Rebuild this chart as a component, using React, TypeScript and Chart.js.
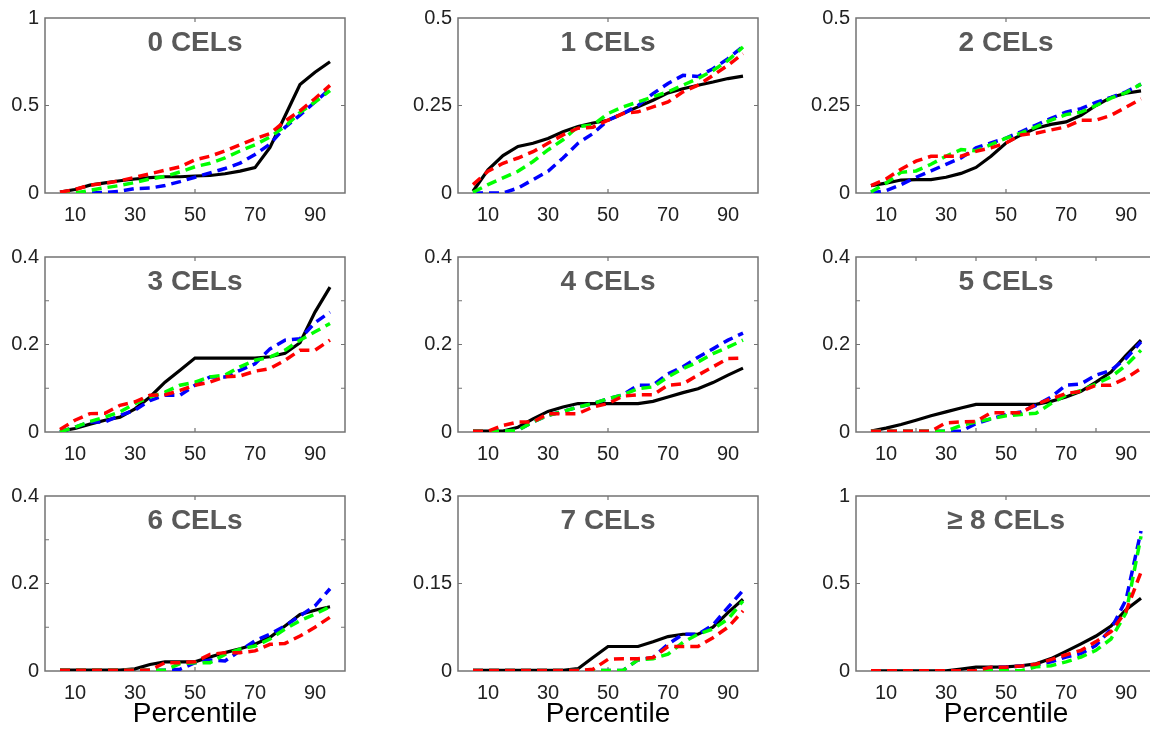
import React, { useEffect, useRef } from "react";
import { Chart, registerables } from "chart.js";

Chart.register(...registerables);

// ---------- data ----------
const percentiles = [5, 10, 15, 20, 25, 30, 35, 40, 45, 50, 55, 60, 65, 70, 75, 80, 85, 90, 95];
const xTickLabels = [10, 30, 50, 70, 90];
const xAxisTitle = "Percentile";

const panelTitles = ["0 CELs", "1 CELs", "2 CELs", "3 CELs", "4 CELs", "5 CELs", "6 CELs", "7 CELs", "≥ 8 CELs"];
const yMaxes = [1, 0.5, 0.5, 0.4, 0.4, 0.4, 0.4, 0.3, 1];
const yTickLabels = [
  [0, 0.5, 1],
  [0, 0.25, 0.5],
  [0, 0.25, 0.5],
  [0, 0.2, 0.4],
  [0, 0.2, 0.4],
  [0, 0.2, 0.4],
  [0, 0.2, 0.4],
  [0, 0.15, 0.3],
  [0, 0.5, 1],
];
const yTickMarks = [
  [0.5],
  [0.25],
  [0.25],
  [0.1, 0.2, 0.3],
  [0.1, 0.2, 0.3],
  [0.1, 0.2, 0.3],
  [0.1, 0.2, 0.3],
  [0.15],
  [0.5],
];
const xTickMarks = [[50], [50], [50], [50], [50], [20, 40, 60, 80], [50], [50], [50]];

const cel0Black = [0.005, 0.02, 0.045, 0.058, 0.07, 0.08, 0.088, 0.093, 0.093, 0.097, 0.1, 0.11, 0.125, 0.145, 0.26, 0.44, 0.62, 0.69, 0.75];
const cel0Blue = [0, 0, 0, 0.003, 0.01, 0.025, 0.028, 0.043, 0.065, 0.09, 0.115, 0.14, 0.17, 0.22, 0.28, 0.375, 0.445, 0.52, 0.595];
const cel0Green = [0, 0, 0.015, 0.03, 0.043, 0.06, 0.08, 0.095, 0.12, 0.15, 0.17, 0.2, 0.24, 0.275, 0.32, 0.38, 0.46, 0.52, 0.585];
const cel0Red = [0.005, 0.02, 0.045, 0.055, 0.07, 0.09, 0.11, 0.13, 0.15, 0.19, 0.21, 0.24, 0.275, 0.31, 0.34, 0.41, 0.47, 0.54, 0.615];

const cel1Black = [0.005, 0.066, 0.107, 0.133, 0.142, 0.156, 0.175, 0.19, 0.2, 0.208, 0.227, 0.246, 0.265, 0.286, 0.298, 0.308, 0.317, 0.327, 0.334];
const cel1Blue = [0, 0, 0, 0.014, 0.038, 0.062, 0.1, 0.142, 0.17, 0.208, 0.227, 0.25, 0.284, 0.313, 0.336, 0.333, 0.355, 0.384, 0.419];
const cel1Green = [0.002, 0.024, 0.043, 0.062, 0.09, 0.123, 0.152, 0.19, 0.194, 0.227, 0.246, 0.26, 0.275, 0.289, 0.308, 0.327, 0.35, 0.379, 0.417];
const cel1Red = [0.024, 0.062, 0.085, 0.1, 0.118, 0.142, 0.166, 0.185, 0.188, 0.208, 0.227, 0.232, 0.246, 0.26, 0.289, 0.308, 0.336, 0.365, 0.398];

const cel2Black = [0.021, 0.028, 0.037, 0.038, 0.038, 0.045, 0.056, 0.073, 0.105, 0.143, 0.166, 0.185, 0.196, 0.203, 0.222, 0.25, 0.273, 0.285, 0.292];
const cel2Blue = [0, 0.007, 0.024, 0.045, 0.063, 0.082, 0.1, 0.129, 0.143, 0.157, 0.175, 0.194, 0.213, 0.231, 0.241, 0.259, 0.273, 0.289, 0.311];
const cel2Green = [0.003, 0.028, 0.059, 0.063, 0.082, 0.105, 0.124, 0.121, 0.138, 0.157, 0.171, 0.189, 0.208, 0.224, 0.231, 0.25, 0.271, 0.287, 0.311];
const cel2Red = [0.021, 0.04, 0.068, 0.091, 0.105, 0.105, 0.105, 0.119, 0.129, 0.143, 0.166, 0.171, 0.18, 0.189, 0.208, 0.208, 0.222, 0.245, 0.269];

const cel3Black = [0.002, 0.008, 0.018, 0.027, 0.034, 0.053, 0.08, 0.114, 0.141, 0.169, 0.169, 0.169, 0.169, 0.169, 0.172, 0.18, 0.204, 0.274, 0.331];
const cel3Blue = [0, 0.011, 0.023, 0.023, 0.038, 0.05, 0.072, 0.084, 0.084, 0.107, 0.126, 0.126, 0.141, 0.156, 0.19, 0.21, 0.213, 0.25, 0.274];
const cel3Green = [0, 0.011, 0.024, 0.034, 0.046, 0.065, 0.08, 0.091, 0.107, 0.114, 0.126, 0.13, 0.149, 0.164, 0.171, 0.187, 0.21, 0.229, 0.248];
const cel3Red = [0.006, 0.027, 0.042, 0.043, 0.061, 0.069, 0.084, 0.085, 0.095, 0.107, 0.114, 0.126, 0.128, 0.139, 0.145, 0.164, 0.187, 0.187, 0.21];

const cel4Black = [0.002, 0.002, 0.002, 0.011, 0.03, 0.047, 0.057, 0.065, 0.065, 0.065, 0.065, 0.065, 0.07, 0.08, 0.09, 0.099, 0.113, 0.13, 0.146];
const cel4Blue = [0.002, 0.002, 0.002, 0.004, 0.023, 0.038, 0.047, 0.057, 0.065, 0.076, 0.085, 0.107, 0.107, 0.133, 0.149, 0.171, 0.19, 0.21, 0.226];
const cel4Green = [0.002, 0.002, 0.002, 0.004, 0.023, 0.038, 0.047, 0.057, 0.065, 0.076, 0.085, 0.099, 0.103, 0.126, 0.145, 0.16, 0.179, 0.194, 0.21];
const cel4Red = [0.002, 0.002, 0.015, 0.023, 0.023, 0.042, 0.042, 0.042, 0.057, 0.065, 0.082, 0.085, 0.085, 0.107, 0.11, 0.13, 0.149, 0.168, 0.169];

const cel5Black = [0.002, 0.009, 0.017, 0.027, 0.037, 0.046, 0.055, 0.063, 0.063, 0.063, 0.063, 0.063, 0.07, 0.08, 0.093, 0.114, 0.137, 0.175, 0.21];
const cel5Blue = [0.002, 0.002, 0.002, 0.002, 0.002, 0.002, 0.002, 0.019, 0.03, 0.04, 0.046, 0.061, 0.08, 0.107, 0.11, 0.13, 0.141, 0.168, 0.206];
const cel5Green = [0.002, 0.002, 0.002, 0.002, 0.002, 0.002, 0.015, 0.023, 0.03, 0.037, 0.04, 0.043, 0.065, 0.084, 0.095, 0.11, 0.126, 0.152, 0.187];
const cel5Red = [0.002, 0.002, 0.002, 0.002, 0.002, 0.021, 0.023, 0.024, 0.044, 0.044, 0.044, 0.063, 0.076, 0.088, 0.093, 0.107, 0.107, 0.123, 0.145];

const cel6Black = [0.002, 0.002, 0.002, 0.002, 0.002, 0.005, 0.015, 0.021, 0.021, 0.021, 0.032, 0.042, 0.051, 0.061, 0.077, 0.103, 0.129, 0.139, 0.147];
const cel6Blue = [0.002, 0.002, 0.002, 0.002, 0.002, 0.002, 0.002, 0.002, 0.004, 0.019, 0.025, 0.023, 0.046, 0.069, 0.084, 0.103, 0.126, 0.149, 0.188];
const cel6Green = [0.002, 0.002, 0.002, 0.002, 0.002, 0.002, 0.002, 0.002, 0.017, 0.019, 0.019, 0.038, 0.05, 0.057, 0.073, 0.096, 0.115, 0.13, 0.147];
const cel6Red = [0.002, 0.002, 0.002, 0.002, 0.002, 0.002, 0.002, 0.019, 0.019, 0.021, 0.038, 0.042, 0.042, 0.046, 0.061, 0.063, 0.08, 0.1, 0.123];

const cel7Black = [0.001, 0.001, 0.001, 0.001, 0.001, 0.001, 0.001, 0.004, 0.023, 0.042, 0.042, 0.042, 0.05, 0.059, 0.063, 0.063, 0.075, 0.1, 0.123];
const cel7Blue = [0.001, 0.001, 0.001, 0.001, 0.001, 0.001, 0.001, 0.001, 0.001, 0.001, 0.001, 0.019, 0.023, 0.046, 0.063, 0.063, 0.079, 0.109, 0.138];
const cel7Green = [0.001, 0.001, 0.001, 0.001, 0.001, 0.001, 0.001, 0.001, 0.001, 0.001, 0.001, 0.019, 0.021, 0.029, 0.049, 0.063, 0.072, 0.089, 0.12];
const cel7Red = [0.001, 0.001, 0.001, 0.001, 0.001, 0.001, 0.001, 0.001, 0.003, 0.02, 0.021, 0.021, 0.023, 0.042, 0.042, 0.042, 0.057, 0.075, 0.103];

const cel8Black = [0.001, 0.001, 0.001, 0.001, 0.001, 0.001, 0.011, 0.022, 0.022, 0.024, 0.03, 0.041, 0.071, 0.112, 0.155, 0.2, 0.257, 0.35, 0.416];
const cel8Blue = [0.001, 0.001, 0.001, 0.001, 0.001, 0.001, 0.001, 0.001, 0.02, 0.022, 0.028, 0.034, 0.052, 0.08, 0.099, 0.146, 0.239, 0.407, 0.8];
const cel8Green = [0.001, 0.001, 0.001, 0.001, 0.001, 0.001, 0.001, 0.001, 0.001, 0.001, 0.001, 0.024, 0.03, 0.052, 0.08, 0.118, 0.183, 0.332, 0.77];
const cel8Red = [0.001, 0.001, 0.001, 0.001, 0.001, 0.001, 0.001, 0.002, 0.022, 0.022, 0.028, 0.039, 0.065, 0.093, 0.118, 0.168, 0.224, 0.341, 0.565];

const blackSeries = [cel0Black, cel1Black, cel2Black, cel3Black, cel4Black, cel5Black, cel6Black, cel7Black, cel8Black];
const blueSeries = [cel0Blue, cel1Blue, cel2Blue, cel3Blue, cel4Blue, cel5Blue, cel6Blue, cel7Blue, cel8Blue];
const greenSeries = [cel0Green, cel1Green, cel2Green, cel3Green, cel4Green, cel5Green, cel6Green, cel7Green, cel8Green];
const redSeries = [cel0Red, cel1Red, cel2Red, cel3Red, cel4Red, cel5Red, cel6Red, cel7Red, cel8Red];

// ---------- layout ----------
const colLefts = [45, 458, 856];
const rowTops = [14, 253, 492];
const plotW = 300;
const plotH = 179;
const padL = 45;
const padT = 14;
const padR = 10;
const padB = 40;

const FONT = '"Liberation Sans", Arial, Helvetica, sans-serif';

const framePlugin = {
  id: "matlabFrame",
  beforeDatasetsDraw(chart: any, _args: any, opts: any) {
    const { ctx, chartArea: a, scales } = chart;
    ctx.save();
    ctx.strokeStyle = "#737373";
    ctx.lineWidth = 1.5;
    ctx.strokeRect(a.left, a.top, a.right - a.left, a.bottom - a.top);
    ctx.lineWidth = 1.2;
    ctx.beginPath();
    for (const v of opts.xMarks || []) {
      const px = scales.x.getPixelForValue(v);
      ctx.moveTo(px, a.bottom);
      ctx.lineTo(px, a.bottom - 4);
      ctx.moveTo(px, a.top);
      ctx.lineTo(px, a.top + 4);
    }
    for (const v of opts.yMarks || []) {
      const py = scales.y.getPixelForValue(v);
      ctx.moveTo(a.left, py);
      ctx.lineTo(a.left + 4, py);
      ctx.moveTo(a.right, py);
      ctx.lineTo(a.right - 4, py);
    }
    ctx.stroke();
    ctx.font = `bold 28px ${FONT}`;
    ctx.fillStyle = "#595959";
    ctx.textAlign = "center";
    ctx.textBaseline = "alphabetic";
    ctx.fillText(opts.title, (a.left + a.right) / 2, a.top + 33);
    ctx.restore();
  },
};

function Panel({ idx }: { idx: number }) {
  const ref = useRef<HTMLCanvasElement | null>(null);
  useEffect(() => {
    if (!ref.current) return;
    const mk = (label: string, data: number[], color: string, dashed: boolean) => ({
      label,
      data: percentiles.map((p, i) => ({ x: p, y: data[i] })),
      borderColor: color,
      backgroundColor: color,
      borderWidth: dashed ? 3.5 : 3.2,
      borderDash: dashed ? [10, 6] : [],
      pointRadius: 0,
      tension: 0,
      fill: false,
    });
    const chart = new Chart(ref.current, {
      type: "line",
      data: {
        datasets: [
          mk("red", redSeries[idx], "#ff0000", true),
          mk("green", greenSeries[idx], "#00ff00", true),
          mk("blue", blueSeries[idx], "#0000ff", true),
          mk("black", blackSeries[idx], "#000000", false),
        ],
      },
      options: {
        animation: false,
        responsive: false,
        maintainAspectRatio: false,
        devicePixelRatio: 1,
        layout: { padding: { top: padT, right: padR, left: 0, bottom: 0 } },
        plugins: {
          legend: { display: false },
          tooltip: { enabled: false },
          matlabFrame: {
            title: panelTitles[idx],
            xMarks: xTickMarks[idx],
            yMarks: yTickMarks[idx],
          },
        } as any,
        scales: {
          x: {
            type: "linear",
            min: 0,
            max: 100,
            grid: { display: false, drawTicks: false },
            border: { display: false },
            afterBuildTicks: (s: any) => {
              s.ticks = xTickLabels.map((v) => ({ value: v }));
            },
            afterFit: (s: any) => {
              s.height = padB;
            },
            ticks: {
              padding: 10,
              autoSkip: false,
              maxRotation: 0,
              color: "#222222",
              font: { family: FONT, size: 20 },
              callback: (v: any) => String(v),
            },
          },
          y: {
            type: "linear",
            min: 0,
            max: yMaxes[idx],
            grid: { display: false, drawTicks: false },
            border: { display: false },
            afterBuildTicks: (s: any) => {
              s.ticks = yTickLabels[idx].map((v) => ({ value: v }));
            },
            afterFit: (s: any) => {
              s.width = padL;
            },
            ticks: {
              padding: 6,
              autoSkip: false,
              color: "#222222",
              font: { family: FONT, size: 20 },
              callback: (v: any) => String(v),
            },
          },
        },
      } as any,
      plugins: [framePlugin as any],
    });
    return () => chart.destroy();
  }, [idx]);

  const col = idx % 3;
  const row = Math.floor(idx / 3);
  return (
    <canvas
      ref={ref}
      width={padL + plotW + padR}
      height={padT + plotH + padB}
      style={{
        position: "absolute",
        left: colLefts[col] - padL,
        top: rowTops[row] - padT,
        width: padL + plotW + padR,
        height: padT + plotH + padB,
      }}
    />
  );
}

export default function App() {
  return (
    <div
      style={{
        position: "fixed",
        left: 0,
        top: 0,
        width: 1150,
        height: 738,
        overflow: "hidden",
        background: "#ffffff",
      }}
    >
      {panelTitles.map((_, i) => (
        <Panel key={i} idx={i} />
      ))}
      {colLefts.map((l, c) => (
        <div
          key={"xl" + c}
          style={{
            position: "absolute",
            left: l + plotW / 2 - 120,
            width: 240,
            top: 697,
            textAlign: "center",
            fontFamily: FONT,
            fontSize: 28,
            lineHeight: "32px",
            color: "#000",
          }}
        >
          {xAxisTitle}
        </div>
      ))}
    </div>
  );
}
